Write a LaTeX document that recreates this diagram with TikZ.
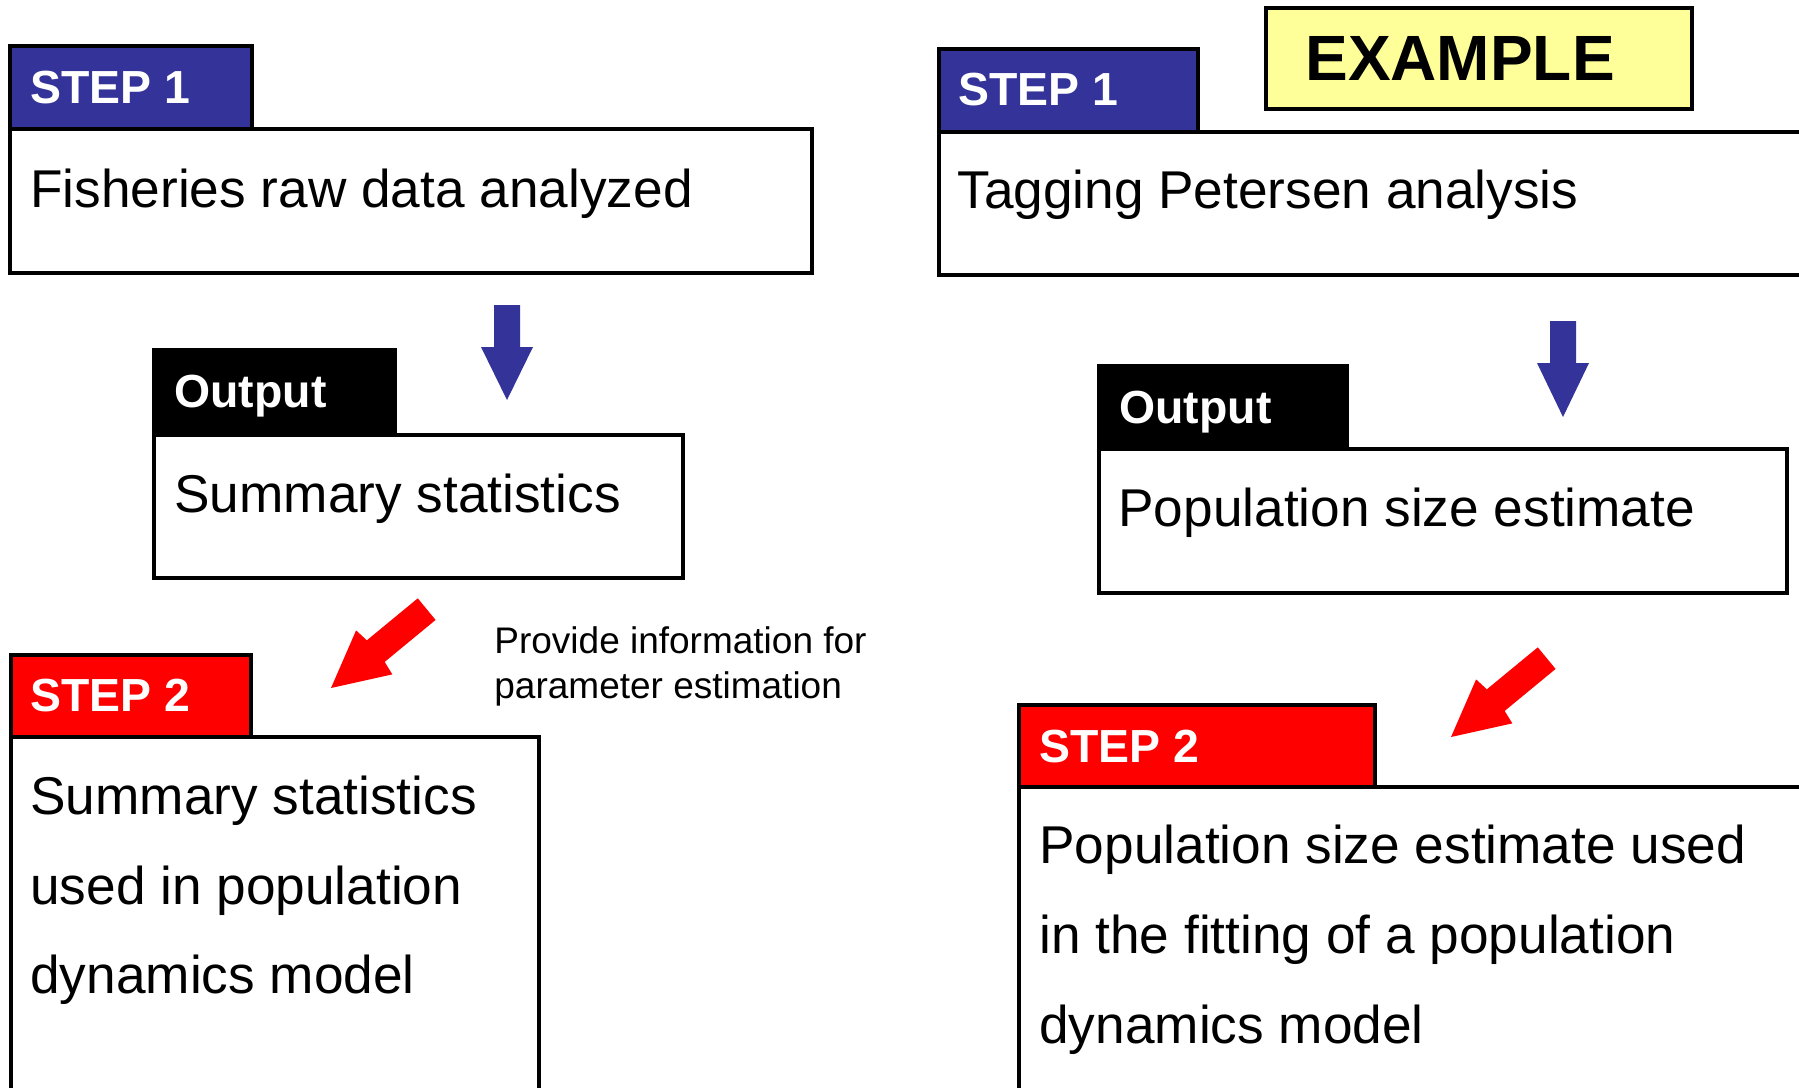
\documentclass[tikz,border=0pt]{standalone}
\usepackage{fontspec}
\setmainfont{Liberation Sans}
\usetikzlibrary{fit}
\definecolor{stepblue}{HTML}{333399}
\definecolor{stepred}{HTML}{FF0000}
\definecolor{notey}{HTML}{FFFF99}

\begin{document}
\begin{tikzpicture}[x=0.5pt,y=-0.5pt,
  panel/.style={draw=black, line width=2pt, inner sep=0pt, outer sep=0pt, fill=white, rectangle},
  tabblue/.style={panel, fill=stepblue},
  tabred/.style={panel, fill=stepred},
  tabblack/.style={panel, fill=black},
  examplebox/.style={panel, fill=notey, line width=2.4pt},
  tablabel/.style={anchor=base west, inner sep=0pt, text=white, font=\bfseries\fontsize{23.2}{28}\selectfont},
  body/.style={anchor=base west, inner sep=0pt, font=\fontsize{26.6}{32}\selectfont},
  note/.style={anchor=base west, inner sep=0pt, font=\fontsize{18.5}{22}\selectfont},
  bigtitle/.style={anchor=base west, inner sep=0pt, font=\bfseries\fontsize{32}{38}\selectfont},
  downarrow/.style={fill=stepblue},
  slantarrow/.style={fill=stepred}]

\useasboundingbox (0,0) rectangle (1799,1087);

% ---------- left column: general scheme ----------
\node[panel, fit={(10,129) (812,273)}] (boxA) {};
\node[tabblue, fit={(10,46) (252,129)}] (tabA) {};
\node[tablabel] (tabAtext) at (30,103) {STEP 1};
\node[body] (boxAtext) at (30,207) {Fisheries raw data analyzed};

\node[panel, fit={(154,435) (683,578)}] (boxB) {};
\node[tabblack, fit={(154,350) (395,435)}] (tabB) {};
\node[tablabel] (tabBtext) at (174,407) {Output};
\node[body] (boxBtext) at (174,512) {Summary statistics};

\node[panel, fit={(11,737) (539,1092)}] (boxC) {};
\node[tabred, fit={(11,655) (251,737)}] (tabC) {};
\node[tablabel] (tabCtext) at (30,711) {STEP 2};
\node[body] (boxCline1) at (30,814) {Summary statistics};
\node[body] (boxCline2) at (30,904) {used in population};
\node[body] (boxCline3) at (30,993) {dynamics model};

\node[note] (noteA) at (494,653) {Provide information for};
\node[note] (noteB) at (494,698) {parameter estimation};

% block arrows of the left column
\coordinate (tipA) at (507,400);
\fill[downarrow, shift={(tipA)}]
  (-13,-95) -- (13,-95) -- (13,-53) -- (26,-53) -- (0,0) -- (-26,-53) -- (-13,-53) -- cycle;
\coordinate (tipB) at (331,688);
\fill[slantarrow, shift={(tipB)}, rotate=219.5]
  (0,0) -- (-56,28.5) -- (-58,14) -- (-124,14) -- (-124,-14) -- (-58,-14) -- (-56,-28.5) -- cycle;

% ---------- right column: worked example ----------
\node[examplebox, fit={(1266,8) (1692,109)}] (exbox) {};
\node[bigtitle] (extext) at (1305,80) {EXAMPLE};

\node[panel, fit={(939,132) (1812,275)}] (boxD) {};
\node[tabblue, fit={(939,49) (1198,132)}] (tabD) {};
\node[tablabel] (tabDtext) at (958,105) {STEP 1};
\node[body] (boxDtext) at (957,208) {Tagging Petersen analysis};

\node[panel, fit={(1099,449) (1787,593)}] (boxE) {};
\node[tabblack, fit={(1099,366) (1347,449)}] (tabE) {};
\node[tablabel] (tabEtext) at (1119,423) {Output};
\node[body] (boxEtext) at (1118,526) {Population size estimate};

\node[panel, fit={(1019,787) (1812,1100)}] (boxF) {};
\node[tabred, fit={(1019,705) (1375,787)}] (tabF) {};
\node[tablabel] (tabFtext) at (1039,762) {STEP 2};
\node[body] (boxFline1) at (1039,863) {Population size estimate used};
\node[body] (boxFline2) at (1039,953) {in the fitting of a population};
\node[body] (boxFline3) at (1039,1043) {dynamics model};

% block arrows of the right column
\coordinate (tipC) at (1563,417);
\fill[downarrow, shift={(tipC)}]
  (-13,-96) -- (13,-96) -- (13,-54) -- (26,-54) -- (0,0) -- (-26,-54) -- (-13,-54) -- cycle;
\coordinate (tipD) at (1451,737);
\fill[slantarrow, shift={(tipD)}, rotate=219.5]
  (0,0) -- (-56,28.5) -- (-58,14) -- (-124,14) -- (-124,-14) -- (-58,-14) -- (-56,-28.5) -- cycle;

\end{tikzpicture}
\end{document}
